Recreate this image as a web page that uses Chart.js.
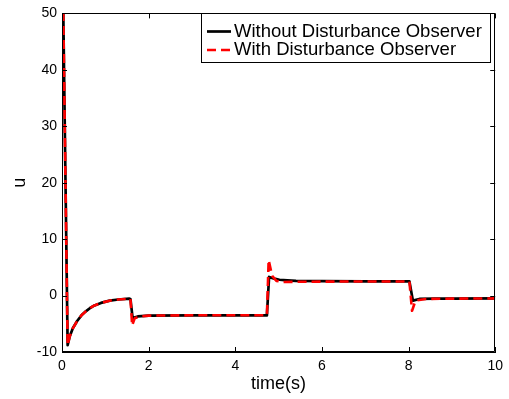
<!DOCTYPE html>
<html>
<head>
<meta charset="utf-8">
<script src="https://cdn.jsdelivr.net/npm/chart.js@4"></script>
<style>
html,body{margin:0;padding:0;background:#fff;}
#wrap{width:509px;height:399px;}
</style>
</head>
<body>
<div id="wrap"><canvas id="c" width="509" height="399"></canvas></div>
<script>
// ---- data ----
const seriesNames = ["Without Disturbance Observer", "With Disturbance Observer"];
const xTicks = [0, 2, 4, 6, 8, 10];
const yTicks = [-10, 0, 10, 20, 30, 40, 50];

const timeWithout = [0, 0.03, 0.13, 0.18, 0.25, 0.35, 0.45, 0.55, 0.65, 0.75, 0.9, 1.1, 1.3, 1.55, 1.58, 1.63, 1.75, 2.0, 3.0, 4.0, 4.73, 4.78, 4.9, 5.02, 5.2, 5.4, 6.0, 7.0, 8.02, 8.1, 8.25, 8.6, 9.0, 10.0];
const uWithout    = [50, 50, -8.8, -7.2, -5.8, -4.5, -3.5, -2.8, -2.2, -1.75, -1.3, -0.9, -0.7, -0.55, -0.6, -4.0, -3.7, -3.55, -3.5, -3.5, -3.5, 3.3, 3.0, 2.8, 2.7, 2.6, 2.55, 2.5, 2.5, -0.9, -0.6, -0.55, -0.55, -0.5];

const timeWith = [0, 0.03, 0.13, 0.18, 0.25, 0.35, 0.45, 0.55, 0.65, 0.75, 0.9, 1.1, 1.3, 1.55, 1.58, 1.62, 1.68, 1.8, 2.0, 3.0, 4.0, 4.73, 4.77, 4.85, 4.95, 5.1, 5.5, 7.0, 8.02, 8.08, 8.16, 8.4, 9.0, 10.0];
const uWith    = [50, 50, -8.8, -7.2, -5.8, -4.5, -3.5, -2.8, -2.2, -1.75, -1.3, -0.9, -0.7, -0.55, -0.6, -5.3, -4.0, -3.7, -3.55, -3.5, -3.5, -3.5, 6.3, 3.5, 2.6, 2.4, 2.45, 2.5, 2.5, -2.7, -0.9, -0.6, -0.55, -0.5];

const toPts = (xs, ys) => xs.map((x, i) => ({x: x, y: ys[i]}));

const FONT = "'Liberation Sans', Arial, Helvetica, sans-serif";

const framePlugin = {
  id: 'frame',
  afterDraw(chart) {
    const {ctx, chartArea: a, scales} = chart;
    const xs = scales.x, ys = scales.y;
    ctx.save();
    ctx.strokeStyle = '#000';
    ctx.lineWidth = 1;
    ctx.beginPath();
    ctx.rect(Math.round(a.left) + 0.5, Math.round(a.top) + 0.5, Math.round(a.right - a.left) - 1, Math.round(a.bottom - a.top) - 1);
    ctx.stroke();
    const tl = 5;
    ctx.beginPath();
    xTicks.forEach(v => {
      const px = Math.round(xs.getPixelForValue(v)) + 0.5;
      ctx.moveTo(px, a.bottom); ctx.lineTo(px, a.bottom - tl);
      ctx.moveTo(px, a.top); ctx.lineTo(px, a.top + tl);
    });
    yTicks.forEach(v => {
      const py = Math.round(ys.getPixelForValue(v)) + 0.5;
      ctx.moveTo(a.left, py); ctx.lineTo(a.left + tl, py);
      ctx.moveTo(a.right, py); ctx.lineTo(a.right - tl, py);
    });
    ctx.stroke();

    // legend box (inside the axes, top right)
    const bx = 201, by = 13, bw = 289, bh = 49;
    ctx.fillStyle = '#fff';
    ctx.fillRect(bx, by, bw, bh);
    ctx.strokeRect(bx + 0.5, by + 0.5, bw, bh);
    const rowsY = [31.5, 50];
    chart.data.datasets.forEach((ds, i) => {
      const y = rowsY[i];
      ctx.save();
      ctx.strokeStyle = ds.borderColor;
      ctx.lineWidth = ds.borderWidth;
      ctx.setLineDash(ds.borderDash || []);
      ctx.beginPath();
      ctx.moveTo(207, y); ctx.lineTo(231, y);
      ctx.stroke();
      ctx.restore();
      ctx.fillStyle = '#000';
      ctx.font = '18.5px ' + FONT;
      ctx.textBaseline = 'middle';
      ctx.textAlign = 'left';
      ctx.fillText(ds.label, 234, y);
    });
    ctx.restore();
  }
};

new Chart(document.getElementById('c'), {
  type: 'line',
  data: {
    datasets: [
      {label: seriesNames[0], data: toPts(timeWithout, uWithout), borderColor: '#000000', borderWidth: 2.7, borderJoinStyle: 'round', pointRadius: 0, tension: 0, fill: false, order: 1},
      {label: seriesNames[1], data: toPts(timeWith, uWith), borderColor: '#ff0000', borderWidth: 2.6, borderJoinStyle: 'round', borderDash: [9, 5], pointRadius: 0, tension: 0, fill: false, order: 0}
    ]
  },
  options: {
    responsive: false,
    animation: false,
    devicePixelRatio: 1,
    layout: {padding: {top: 10, right: 13, left: 0, bottom: 0}},
    plugins: {legend: {display: false}, tooltip: {enabled: false}},
    scales: {
      x: {
        type: 'linear', min: 0, max: 10,
        afterBuildTicks: s => { s.ticks = xTicks.map(v => ({value: v})); },
        afterFit: s => { s.height = 47; },
        grid: {display: false, drawTicks: false},
        border: {display: true, color: '#000', width: 1},
        ticks: {color: '#000', padding: 6, maxRotation: 0, font: {family: FONT, size: 14}},
        title: {display: true, text: 'time(s)', color: '#000', font: {family: FONT, size: 18}, padding: {top: 0, bottom: 4}}
      },
      y: {
        type: 'linear', min: -10, max: 50,
        afterBuildTicks: s => { s.ticks = yTicks.map(v => ({value: v})); },
        afterFit: s => { s.width = 62; },
        grid: {display: false, drawTicks: false},
        border: {display: true, color: '#000', width: 1},
        ticks: {color: '#000', padding: 5, font: {family: FONT, size: 14}},
        title: {display: true, text: 'u', color: '#000', font: {family: FONT, size: 18}, padding: {top: 9, bottom: 0}}
      }
    }
  },
  plugins: [framePlugin]
});
</script>
</body>
</html>
